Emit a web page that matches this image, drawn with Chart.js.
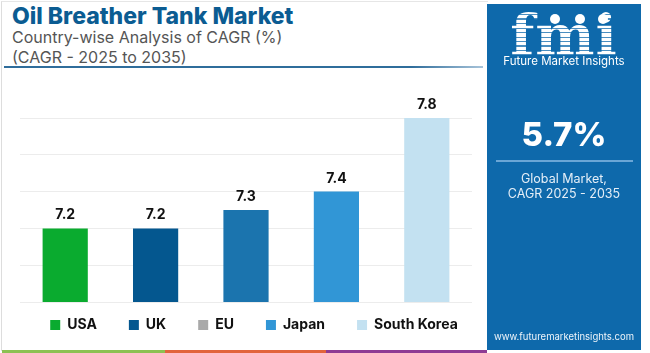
<!DOCTYPE html>
<html>
<head>
<meta charset="utf-8">
<script src="https://cdn.jsdelivr.net/npm/chart.js@4.4.1/dist/chart.umd.min.js"></script>
<style>
    html, body { margin: 0; padding: 0; width: 650px; height: 353px; overflow: hidden; background: #fff; font-family: Inter, "Open Sans", sans-serif; }
    #frame { position: absolute; left: 1px; top: 1px; width: 486px; height: 349px; border-left: 1px solid #ddd; border-top: 1px solid #e6e6e6; }
    #title { position: absolute; left: 12px; top: 2px; font-size: 23px; font-weight: 800; color: #0b5c92; white-space: nowrap; }
    .sub { position: absolute; left: 12px; font-size: 16px; color: #555; white-space: nowrap; }
    #rule { position: absolute; left: 4px; top: 66px; width: 479px; height: 2px; background: linear-gradient(to right, #2f6d9b 85%, #a8c4da); }
    #chartBox { position: absolute; left: 0; top: 0; width: 510px; height: 358px; }
    #panel { position: absolute; left: 487px; top: 4px; width: 154px; height: 346px; background: #0e69ab; color: #fff; text-align: center; z-index: 2; }
    #logo { position: absolute; left: 0; width: 154px; top: -2px; font-family: "DejaVu Serif", serif; font-weight: bold; font-size: 56px; letter-spacing: 1px;
        background: repeating-linear-gradient(to bottom, #fff 0 3px, rgba(255,255,255,0.25) 3px 4.5px); -webkit-background-clip: text; background-clip: text; color: transparent; }
    .dot { position: absolute; width: 10px; height: 10px; border-radius: 50%; background: #fff; top: 10px; }
    #brand { position: absolute; left: 0; width: 154px; top: 50px; font-size: 11.5px; }
    #big { position: absolute; left: 0; width: 154px; top: 110px; font-size: 33px; font-weight: 800; }
    #line { position: absolute; left: 9px; top: 156px; width: 137px; height: 2px; background: #6aa6d6; }
    .small { position: absolute; left: 0; width: 154px; font-size: 12.5px; color: #e4eef7; }
    #site { position: absolute; left: 0; width: 154px; top: 327px; font-size: 9.5px; color: #eef4fa; }
    .strip { position: absolute; top: 350px; height: 3px; z-index: 2; }
</style>
</head>
<body>
<div id="frame"></div>
<div id="title">Oil Breather Tank Market</div>
<div class="sub" style="top: 27px;">Country-wise Analysis of CAGR (%)</div>
<div class="sub" style="top: 47px;">(CAGR - 2025 to 2035)</div>
<div id="rule"></div>
<div id="chartBox"><canvas id="cagrChart"></canvas></div>
<div id="panel">
    <div id="logo">fmi</div>
    <div class="dot" style="left: 63px;"></div>
    <div class="dot" style="left: 88px;"></div>
    <div class="dot" style="left: 111px;"></div>
    <div id="brand">Future Market Insights</div>
    <div id="big">5.7%</div>
    <div id="line"></div>
    <div class="small" style="top: 167px;">Global Market,</div>
    <div class="small" style="top: 182px;">CAGR 2025 - 2035</div>
    <div id="site">www.futuremarketinsights.com</div>
</div>
<div class="strip" style="left: 2px; width: 163px; background: #8cc152;"></div>
<div class="strip" style="left: 165px; width: 161px; background: #e2643c;"></div>
<div class="strip" style="left: 326px; width: 161px; background: #8e3b94;"></div>

<script>
// Chart data
const countries = ['USA', 'UK', 'EU', 'Japan', 'South Korea'];
const cagrValues = [7.2, 7.2, 7.3, 7.4, 7.8];
const barColors = ['#0aab2f', '#04578f', '#1b74ae', '#3196d6', '#c3e1f1'];
const legendColors = ['#0aab2f', '#04578f', '#a9a9a9', '#3196d6', '#c3e1f1'];
const axisMin = 6.8;
const axisMax = 7.8;
const axisStep = 0.2;

// Value above each bar
const valueLabels = {
    id: 'valueLabels',
    afterDatasetsDraw(chart) {
        const ctx = chart.ctx;
        const meta = chart.getDatasetMeta(0);
        ctx.save();
        ctx.font = 'bold 14px Inter';
        ctx.fillStyle = '#111';
        ctx.textAlign = 'center';
        ctx.textBaseline = 'alphabetic';
        meta.data.forEach((bar, i) => {
            ctx.fillText(cagrValues[i].toFixed(1), bar.x, bar.y - 9);
        });
        ctx.restore();
    }
};

// Legend sits closer to the bars than its padding allows
const legendNudge = {
    id: 'legendNudge',
    afterLayout(chart) {
        chart.legend.top -= 16;
        chart.legend.bottom -= 16;
    }
};

new Chart(document.getElementById('cagrChart'), {
    type: 'bar',
    data: {
        labels: countries,
        datasets: [{
            data: cagrValues,
            backgroundColor: barColors,
            borderWidth: 0,
            barPercentage: 0.5,
            categoryPercentage: 1
        }]
    },
    options: {
        responsive: true,
        maintainAspectRatio: false,
        animation: false,
        layout: { padding: { top: 118, left: 0, right: 2, bottom: 0 } },
        plugins: {
            tooltip: { enabled: false },
            legend: {
                position: 'bottom',
                labels: {
                    boxWidth: 10,
                    boxHeight: 10,
                    padding: 32,
                    color: '#111',
                    font: { family: 'Inter', size: 14, weight: 'bold' },
                    generateLabels: () => countries.map((c, i) => ({
                        text: c,
                        fillStyle: legendColors[i],
                        strokeStyle: legendColors[i],
                        lineWidth: 0,
                        fontColor: '#111',
                        index: i
                    }))
                }
            }
        },
        scales: {
            x: { display: false },
            y: {
                min: axisMin,
                max: axisMax,
                ticks: { display: false, stepSize: axisStep },
                grid: { color: '#ececec', drawTicks: false },
                border: { display: false },
                afterFit: (scale) => { scale.width = 20; }
            },
            y2: {
                position: 'right',
                ticks: { display: false },
                grid: { display: false },
                border: { display: false },
                afterFit: (scale) => { scale.width = 36; }
            }
        }
    },
    plugins: [valueLabels, legendNudge]
});
</script>
</body>
</html>
